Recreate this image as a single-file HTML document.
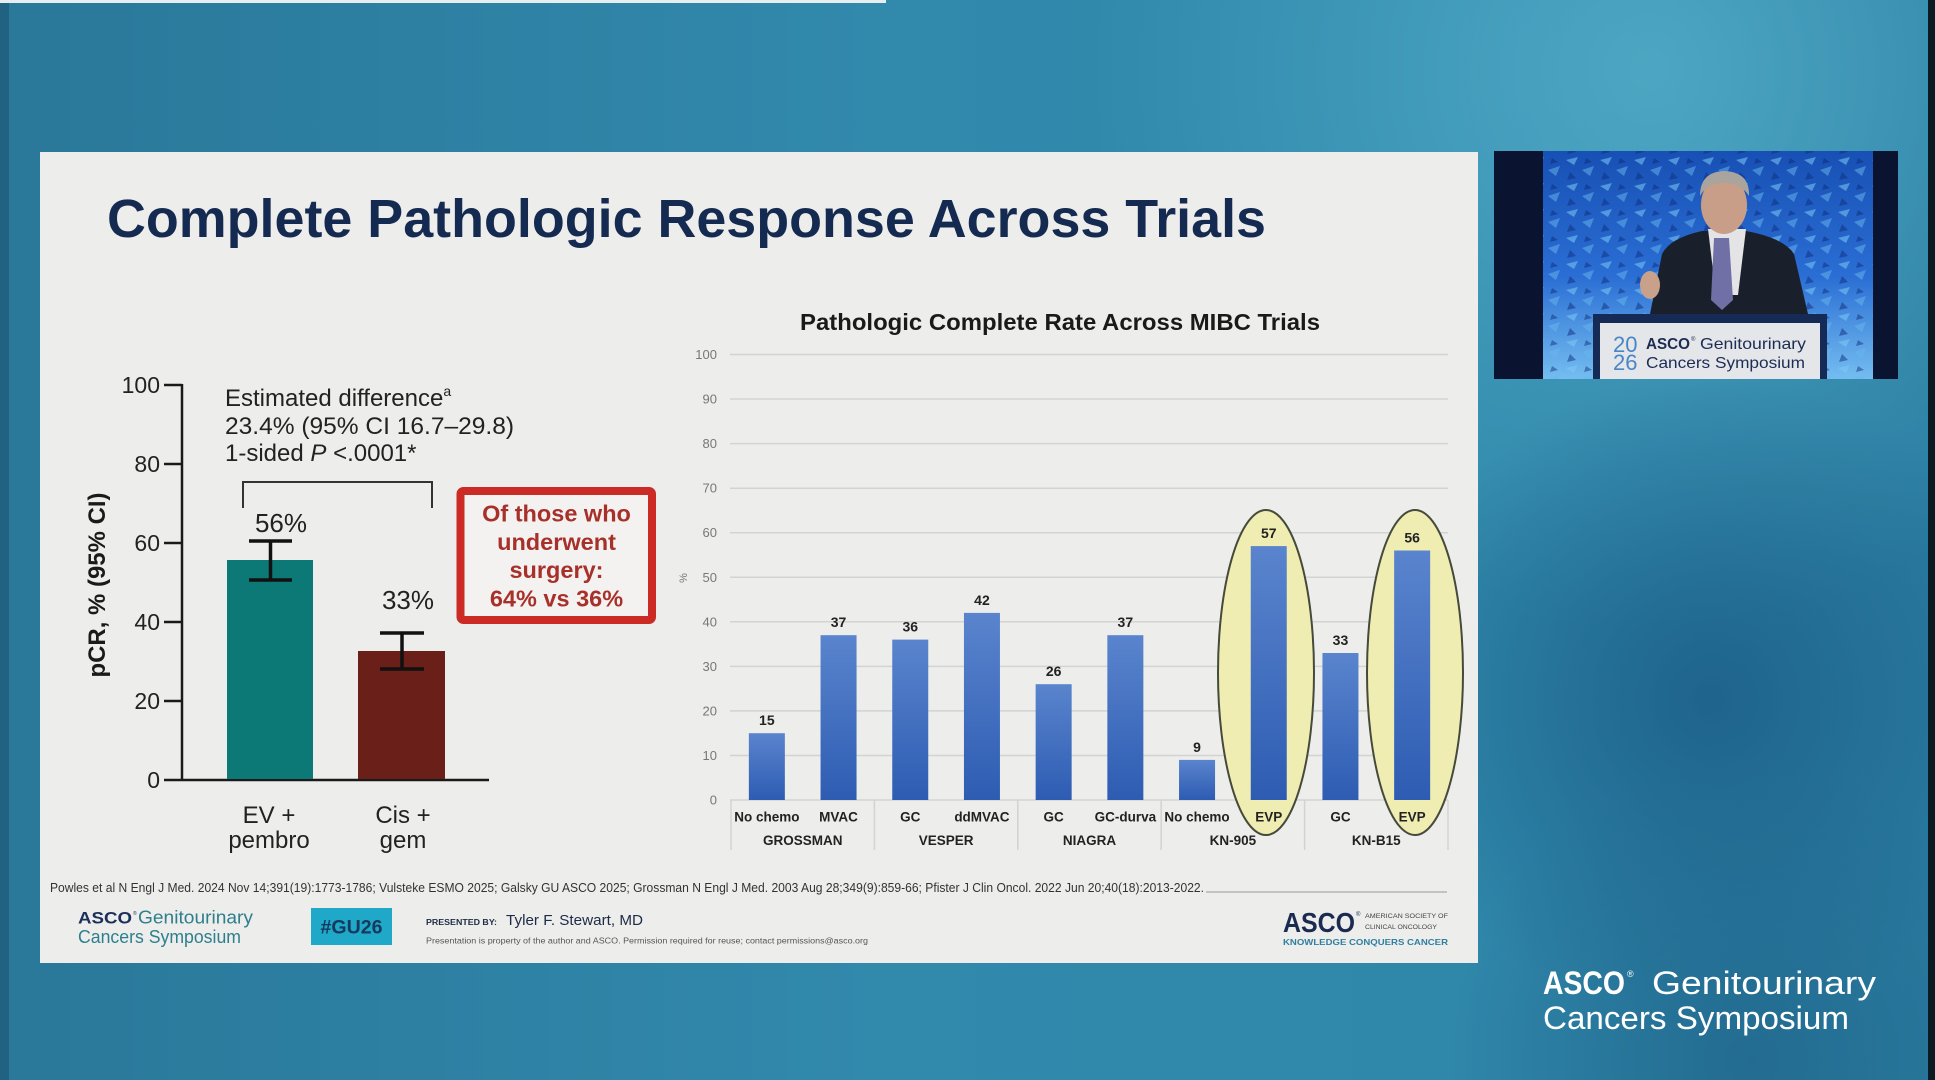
<!DOCTYPE html>
<html><head><meta charset="utf-8"><style>
html,body{margin:0;padding:0;width:1935px;height:1080px;overflow:hidden;background:#2c7fa2}
svg{display:block}
text{font-family:"Liberation Sans",Arial,sans-serif}
</style></head><body>
<svg width="1935" height="1080" viewBox="0 0 1935 1080" xmlns="http://www.w3.org/2000/svg">
<defs>
<linearGradient id="bg" x1="0" y1="0" x2="1" y2="0">
 <stop offset="0" stop-color="#2a789a"/>
 <stop offset="0.45" stop-color="#3189ac"/>
 <stop offset="0.75" stop-color="#2f87aa"/>
 <stop offset="1" stop-color="#2a7ca0"/>
</linearGradient>
<radialGradient id="topglow" cx="1650" cy="70" r="560" gradientUnits="userSpaceOnUse">
 <stop offset="0" stop-color="#5ab6d0" stop-opacity="0.7"/>
 <stop offset="1" stop-color="#5ab6d0" stop-opacity="0"/>
</radialGradient>
<radialGradient id="rdark" cx="1710" cy="700" r="330" gradientUnits="userSpaceOnUse">
 <stop offset="0" stop-color="#1c5e88" stop-opacity="0.85"/>
 <stop offset="1" stop-color="#1c5e88" stop-opacity="0"/>
</radialGradient>
<radialGradient id="bdark" cx="1750" cy="1060" r="300" gradientUnits="userSpaceOnUse">
 <stop offset="0" stop-color="#1f6289" stop-opacity="0.7"/>
 <stop offset="1" stop-color="#1f6289" stop-opacity="0"/>
</radialGradient>
<linearGradient id="bar" x1="0" y1="0" x2="0" y2="1">
 <stop offset="0" stop-color="#5a84cd"/>
 <stop offset="1" stop-color="#2d5cb2"/>
</linearGradient>
<linearGradient id="backdrop" x1="0" y1="0" x2="0" y2="1">
 <stop offset="0" stop-color="#1850b4"/>
 <stop offset="0.55" stop-color="#2a6ed4"/>
 <stop offset="1" stop-color="#74bdf0"/>
</linearGradient>
<pattern id="shards" width="34" height="26" patternUnits="userSpaceOnUse">
 <polygon points="2,4 14,1 10,9" fill="#7cc8f4" opacity="0.55"/>
 <polygon points="18,14 30,10 26,20" fill="#6ab8ee" opacity="0.5"/>
 <polygon points="6,16 12,22 3,24" fill="#0d2e80" opacity="0.5"/>
 <polygon points="22,2 28,6 20,8" fill="#0b2670" opacity="0.45"/>
</pattern>
</defs>

<!-- background -->
<rect x="0" y="0" width="1935" height="1080" fill="url(#bg)"/>
<rect x="0" y="0" width="1935" height="1080" fill="url(#topglow)"/>
<rect x="0" y="0" width="1935" height="1080" fill="url(#rdark)"/>
<rect x="0" y="0" width="1935" height="1080" fill="url(#bdark)"/>
<rect x="0" y="0" width="9" height="1080" fill="#1f5c7c" opacity="0.8"/>
<rect x="1928" y="0" width="7" height="1080" fill="#0c1a24"/>
<rect x="0" y="0" width="886" height="3" fill="#e6eef0"/>

<!-- slide -->
<rect x="40" y="152" width="1438" height="811" fill="#ededeb"/>

<text x="107" y="237" font-size="54" font-weight="bold" fill="#152a50" textLength="1159" lengthAdjust="spacingAndGlyphs">Complete Pathologic Response Across Trials</text>

<!-- LEFT CHART -->
<g stroke="#1a1a1a" stroke-width="2.5" fill="none">
 <line x1="182" y1="384" x2="182" y2="781"/>
 <line x1="164" y1="780" x2="489" y2="780"/>
 <line x1="164" y1="385" x2="182" y2="385"/>
 <line x1="164" y1="464" x2="182" y2="464"/>
 <line x1="164" y1="543" x2="182" y2="543"/>
 <line x1="164" y1="622" x2="182" y2="622"/>
 <line x1="164" y1="701" x2="182" y2="701"/>
</g>
<g font-size="23" fill="#222" text-anchor="end">
 <text x="160" y="393">100</text>
 <text x="160" y="472">80</text>
 <text x="160" y="551">60</text>
 <text x="160" y="630">40</text>
 <text x="160" y="709">20</text>
 <text x="160" y="788">0</text>
</g>
<text transform="translate(105,585) rotate(-90)" text-anchor="middle" font-size="24" font-weight="bold" fill="#1a1a1a" textLength="185" lengthAdjust="spacingAndGlyphs">pCR, % (95% CI)</text>

<rect x="227" y="560" width="86" height="219" fill="#0d7977"/>
<rect x="358" y="651" width="87" height="128" fill="#6a2019"/>
<g stroke="#111" stroke-width="3.5">
 <line x1="270.5" y1="541" x2="270.5" y2="580"/>
 <line x1="249" y1="541" x2="292" y2="541"/>
 <line x1="249" y1="580" x2="292" y2="580"/>
 <line x1="402" y1="633" x2="402" y2="669"/>
 <line x1="380" y1="633" x2="424" y2="633"/>
 <line x1="380" y1="669" x2="424" y2="669"/>
</g>
<polyline points="243,508 243,482 432,482 432,508" fill="none" stroke="#333" stroke-width="2"/>
<text x="281" y="532" font-size="26" fill="#222" text-anchor="middle">56%</text>
<text x="408" y="609" font-size="26" fill="#222" text-anchor="middle">33%</text>

<g font-size="24" fill="#222">
 <text x="225" y="406">Estimated difference<tspan font-size="14" dy="-10">a</tspan></text>
 <text x="225" y="434" textLength="289" lengthAdjust="spacingAndGlyphs">23.4% (95% CI 16.7–29.8)</text>
 <text x="225" y="461">1-sided <tspan font-style="italic">P</tspan> &lt;.0001*</text>
</g>
<g font-size="24" fill="#222" text-anchor="middle">
 <text x="269" y="823">EV +</text>
 <text x="269" y="848">pembro</text>
 <text x="403" y="823">Cis +</text>
 <text x="403" y="848">gem</text>
</g>

<!-- red box -->
<rect x="460.5" y="491" width="191.5" height="129" fill="#f4f2f0" stroke="#cc2a24" stroke-width="8" rx="3"/>
<g font-size="23.5" font-weight="bold" fill="#a8302a" text-anchor="middle">
 <text x="556.5" y="521.5">Of those who</text>
 <text x="556.5" y="550">underwent</text>
 <text x="556.5" y="578">surgery:</text>
 <text x="556.5" y="606.5">64% vs 36%</text>
</g>

<!-- RIGHT CHART -->
<text x="800" y="330" font-size="23.5" font-weight="bold" fill="#1a1a1a" textLength="520" lengthAdjust="spacingAndGlyphs">Pathologic Complete Rate Across MIBC Trials</text>
<g stroke="#d3d3d3" stroke-width="1.5">
 <line x1="730" y1="354.5" x2="1448" y2="354.5"/>
 <line x1="730" y1="399" x2="1448" y2="399"/>
 <line x1="730" y1="443.6" x2="1448" y2="443.6"/>
 <line x1="730" y1="488.2" x2="1448" y2="488.2"/>
 <line x1="730" y1="532.7" x2="1448" y2="532.7"/>
 <line x1="730" y1="577.3" x2="1448" y2="577.3"/>
 <line x1="730" y1="621.8" x2="1448" y2="621.8"/>
 <line x1="730" y1="666.4" x2="1448" y2="666.4"/>
 <line x1="730" y1="710.9" x2="1448" y2="710.9"/>
 <line x1="730" y1="755.5" x2="1448" y2="755.5"/>
 <line x1="730" y1="800" x2="1448" y2="800"/>
 <line x1="731" y1="800" x2="731" y2="850"/>
 <line x1="874.4" y1="800" x2="874.4" y2="850"/>
 <line x1="1017.8" y1="800" x2="1017.8" y2="850"/>
 <line x1="1161.2" y1="800" x2="1161.2" y2="850"/>
 <line x1="1304.6" y1="800" x2="1304.6" y2="850"/>
 <line x1="1448" y1="800" x2="1448" y2="850"/>
</g>
<g font-size="13" fill="#777" text-anchor="end">
 <text x="717" y="359">100</text>
 <text x="717" y="403.5">90</text>
 <text x="717" y="448">80</text>
 <text x="717" y="492.7">70</text>
 <text x="717" y="537.2">60</text>
 <text x="717" y="581.8">50</text>
 <text x="717" y="626.3">40</text>
 <text x="717" y="670.9">30</text>
 <text x="717" y="715.4">20</text>
 <text x="717" y="760">10</text>
 <text x="717" y="804.5">0</text>
</g>
<text transform="translate(687,578) rotate(-90)" text-anchor="middle" font-size="11" fill="#777">%</text>

<ellipse cx="1266" cy="672.5" rx="48" ry="162.5" fill="#efedb2" stroke="#454a3a" stroke-width="2"/>
<ellipse cx="1415" cy="672.5" rx="48" ry="162.5" fill="#efedb2" stroke="#454a3a" stroke-width="2"/>

<g fill="url(#bar)">
 <rect x="748.85" y="733.2" width="36" height="66.8"/>
 <rect x="820.55" y="635.2" width="36" height="164.8"/>
 <rect x="892.25" y="639.6" width="36" height="160.4"/>
 <rect x="963.95" y="612.9" width="36" height="187.1"/>
 <rect x="1035.65" y="684.2" width="36" height="115.8"/>
 <rect x="1107.35" y="635.2" width="36" height="164.8"/>
 <rect x="1179.05" y="759.9" width="36" height="40.1"/>
 <rect x="1250.75" y="546.1" width="36" height="253.9"/>
 <rect x="1322.45" y="653" width="36" height="147"/>
 <rect x="1394.15" y="550.5" width="36" height="249.5"/>
</g>
<g font-size="14" font-weight="bold" fill="#222" text-anchor="middle">
 <text x="766.85" y="725">15</text>
 <text x="838.55" y="627">37</text>
 <text x="910.25" y="631.5">36</text>
 <text x="981.95" y="605">42</text>
 <text x="1053.65" y="676">26</text>
 <text x="1125.35" y="627">37</text>
 <text x="1197.05" y="752">9</text>
 <text x="1268.75" y="538">57</text>
 <text x="1340.45" y="645">33</text>
 <text x="1412.15" y="542.5">56</text>
</g>
<g font-size="13.5" font-weight="bold" fill="#222" text-anchor="middle">
 <text x="766.85" y="821.5">No chemo</text>
 <text x="838.55" y="821.5">MVAC</text>
 <text x="910.25" y="821.5">GC</text>
 <text x="981.95" y="821.5">ddMVAC</text>
 <text x="1053.65" y="821.5">GC</text>
 <text x="1125.35" y="821.5">GC-durva</text>
 <text x="1197.05" y="821.5">No chemo</text>
 <text x="1268.75" y="821.5">EVP</text>
 <text x="1340.45" y="821.5">GC</text>
 <text x="1412.15" y="821.5">EVP</text>
 <text x="802.7" y="845">GROSSMAN</text>
 <text x="946.1" y="845">VESPER</text>
 <text x="1089.5" y="845">NIAGRA</text>
 <text x="1232.9" y="845">KN-905</text>
 <text x="1376.3" y="845">KN-B15</text>
</g>

<!-- footer -->
<text x="50" y="892" font-size="12.5" fill="#333" textLength="1154" lengthAdjust="spacingAndGlyphs">Powles et al N Engl J Med. 2024 Nov 14;391(19):1773-1786; Vulsteke ESMO 2025; Galsky GU ASCO 2025; Grossman N Engl J Med. 2003 Aug 28;349(9):859-66; Pfister J Clin Oncol. 2022 Jun 20;40(18):2013-2022.</text>
<line x1="1206" y1="892" x2="1447" y2="892" stroke="#aaa" stroke-width="1.2"/>

<text x="78" y="923.5" font-size="17" font-weight="bold" fill="#1b2f5a" textLength="54" lengthAdjust="spacingAndGlyphs">ASCO</text>
<text x="133" y="915" font-size="5" fill="#1b2f5a">®</text>
<text x="138" y="923.5" font-size="18" fill="#2e7f8e" textLength="115" lengthAdjust="spacingAndGlyphs">Genitourinary</text>
<text x="78" y="943" font-size="18" fill="#2e7f8e" textLength="163" lengthAdjust="spacingAndGlyphs">Cancers Symposium</text>

<rect x="311" y="908" width="81" height="37" fill="#1fa8c8"/>
<text x="351.5" y="933.5" font-size="19" font-weight="bold" fill="#153a5e" text-anchor="middle" textLength="62" lengthAdjust="spacingAndGlyphs">#GU26</text>

<text x="426" y="925" font-size="8" font-weight="bold" fill="#1d2b47" textLength="71" lengthAdjust="spacingAndGlyphs">PRESENTED BY:</text>
<text x="506" y="925" font-size="15" fill="#1d2b47" textLength="137" lengthAdjust="spacingAndGlyphs">Tyler F. Stewart, MD</text>
<text x="426" y="943.5" font-size="8" fill="#555" textLength="442" lengthAdjust="spacingAndGlyphs">Presentation is property of the author and ASCO. Permission required for reuse; contact permissions@asco.org</text>

<text x="1283" y="932" font-size="28" font-weight="bold" fill="#1b2a50" textLength="72" lengthAdjust="spacingAndGlyphs">ASCO</text>
<text x="1356" y="916" font-size="6" fill="#1b2a50">®</text>
<text x="1365" y="918" font-size="6.5" fill="#444" textLength="83" lengthAdjust="spacingAndGlyphs">AMERICAN SOCIETY OF</text>
<text x="1365" y="929" font-size="6.5" fill="#444" textLength="72" lengthAdjust="spacingAndGlyphs">CLINICAL ONCOLOGY</text>
<text x="1283" y="945" font-size="8.5" font-weight="bold" fill="#2f7fa0" textLength="165" lengthAdjust="spacingAndGlyphs">KNOWLEDGE CONQUERS CANCER</text>

<!-- bottom-right logo -->
<text x="1543" y="994" font-size="32" font-weight="bold" fill="#ffffff" textLength="82" lengthAdjust="spacingAndGlyphs">ASCO</text>
<text x="1627" y="977" font-size="9" fill="#ffffff">®</text>
<text x="1652" y="994" font-size="32" fill="#ffffff" textLength="224" lengthAdjust="spacingAndGlyphs">Genitourinary</text>
<text x="1543" y="1029" font-size="32" fill="#ffffff" textLength="306" lengthAdjust="spacingAndGlyphs">Cancers Symposium</text>

<!-- speaker video -->
<rect x="1494" y="151" width="404" height="228" fill="#0a1431"/>
<rect x="1543" y="151" width="330" height="228" fill="url(#backdrop)"/>
<rect x="1543" y="151" width="330" height="228" fill="url(#shards)"/>
<path d="M1650,314 L1662,254 Q1670,238 1702,231 L1746,231 Q1784,238 1794,254 L1808,314 Z" fill="#1a1f2c"/>
<polygon points="1708,229 1746,229 1738,295 1716,295" fill="#e4e4e6"/>
<polygon points="1714,238 1729,238 1733,300 1722,310 1711,300" fill="#7070a6"/>
<ellipse cx="1724" cy="205" rx="23" ry="29" fill="#c89e88"/>
<path d="M1700,196 Q1700,172 1724,171 Q1750,172 1749,196 Q1740,182 1724,183 Q1708,182 1700,196 Z" fill="#a9a59e"/>
<ellipse cx="1650" cy="285" rx="10" ry="14" fill="#c9a08a"/>
<rect x="1593" y="314" width="234" height="65" fill="#152a55"/>
<rect x="1600" y="323" width="220" height="56" fill="#e4e6ea"/>
<text x="1613" y="352" font-size="22" fill="#4a86c5">20</text>
<text x="1613" y="370" font-size="22" fill="#4a86c5">26</text>
<text x="1646" y="349" font-size="16" font-weight="bold" fill="#1c2c52" textLength="44" lengthAdjust="spacingAndGlyphs">ASCO</text>
<text x="1691" y="341" font-size="6" fill="#1c2c52">®</text>
<text x="1700" y="349" font-size="16" fill="#1c2c52" textLength="106" lengthAdjust="spacingAndGlyphs">Genitourinary</text>
<text x="1646" y="368" font-size="16" fill="#1c2c52" textLength="159" lengthAdjust="spacingAndGlyphs">Cancers Symposium</text>
</svg>
</body></html>
